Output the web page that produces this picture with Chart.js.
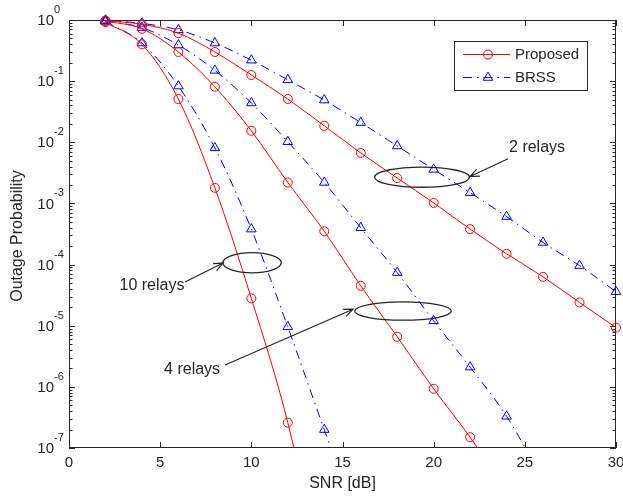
<!DOCTYPE html>
<html>
<head>
<meta charset="utf-8">
<script src="https://cdn.jsdelivr.net/npm/chart.js@4.4.1/dist/chart.umd.min.js"></script>
<style>
html,body{margin:0;padding:0;background:#fff;}
canvas{display:block;}
</style>
</head>
<body>
<canvas id="c" width="623" height="496"></canvas>
<script>
// ---- data ----
const snr = [2, 4, 6, 8, 10, 12, 14, 16, 18, 20, 22, 24, 26, 28, 30];
const proposed2 = [0.98, 0.85, 0.61, 0.30, 0.126, 0.051, 0.0186, 0.0067, 0.0026, 0.00102, 3.8e-4, 1.5e-4, 6.3e-5, 2.4e-5, 9.3e-6];
const brss2     = [0.99, 0.88, 0.69, 0.42, 0.22, 0.105, 0.049, 0.021, 0.0087, 0.0036, 0.0015, 6.1e-4, 2.3e-4, 9.6e-5, 3.6e-5];
const proposed4 = [0.96, 0.72, 0.30, 0.081, 0.0154, 0.0022, 3.5e-4, 4.5e-5, 6.6e-6, 9.3e-7, 1.5e-7, 2e-8];
const brss4     = [0.97, 0.75, 0.39, 0.15, 0.044, 0.0102, 0.0022, 4.0e-4, 7.4e-5, 1.2e-5, 2.1e-6, 3.3e-7, 3e-8];
const proposed10 = [0.92, 0.40, 0.051, 0.0018, 2.8e-5, 2.6e-7, 5e-10];
const brss10     = [0.95, 0.42, 0.083, 0.0081, 3.8e-4, 9.6e-6, 2.0e-7, 5e-9];
const xTicks = [0, 5, 10, 15, 20, 25, 30];
const yExponents = [0, -1, -2, -3, -4, -5, -6, -7];
const legendLabels = ['Proposed', 'BRSS'];
const xTitle = 'SNR [dB]';
const yTitle = 'Outage Probability';
// annotations: ellipse centre (dB, log10 P), radii (dB, decades), label, label position, arrow start and tip
const notes = [
  {cx: 19.36, cy: -2.57, rx: 2.6, ry: 0.165, text: '2 relays', tx: 25.67, ty: -2.08, ax: 24.08, ay: -2.27, bx: 21.99, by: -2.56},
  {cx: 10.04, cy: -3.97, rx: 1.6, ry: 0.165, text: '10 relays', tx: 4.55, ty: -4.35, ax: 6.36, ay: -4.285, bx: 8.45, by: -3.975},
  {cx: 18.32, cy: -4.76, rx: 2.65, ry: 0.15, text: '4 relays', tx: 6.75, ty: -5.71, ax: 8.56, ay: -5.643, bx: 15.58, by: -4.73}
];

const RED = '#ff0000', BLUE = '#0000ff', INK = '#262626';
const DASHDOT = [9, 5, 1.5, 5];
const FONT = '"Liberation Sans", Arial, sans-serif';
const CLIP = {left: 10, right: 10, top: 10, bottom: 0};

function pts(vals){ return vals.map((v, i) => ({x: snr[i], y: v})); }
function propDs(vals){
  return {data: pts(vals), borderColor: RED, backgroundColor: 'rgba(0,0,0,0)', borderWidth: 1, clip: CLIP,
    pointStyle: 'circle', pointRadius: 4.5, pointBorderWidth: 1, pointBorderColor: RED,
    pointBackgroundColor: 'rgba(0,0,0,0)', cubicInterpolationMode: 'monotone'};
}
function brssDs(vals){
  return {data: pts(vals), borderColor: BLUE, backgroundColor: 'rgba(0,0,0,0)', borderWidth: 1, clip: CLIP,
    borderDash: DASHDOT, pointStyle: 'triangle', pointRadius: 5.5, pointBorderWidth: 1, pointBorderColor: BLUE,
    pointBackgroundColor: 'rgba(0,0,0,0)', cubicInterpolationMode: 'monotone'};
}

const decor = {
  id: 'decor',
  beforeDatasetsDraw(chart){
    const {ctx, chartArea: a, scales: {x, y}} = chart;
    ctx.save();
    ctx.strokeStyle = INK; ctx.lineWidth = 1;
    ctx.strokeRect(a.left + 0.5, a.top + 0.5, a.right - a.left - 1, a.bottom - a.top - 1);
    ctx.beginPath();
    xTicks.forEach(v => {
      const px = Math.round(x.getPixelForValue(v)) + 0.5;
      ctx.moveTo(px, a.bottom); ctx.lineTo(px, a.bottom - 6);
      ctx.moveTo(px, a.top); ctx.lineTo(px, a.top + 6);
    });
    yExponents.forEach(e => {
      const py = Math.round(y.getPixelForValue(Math.pow(10, e))) + 0.5;
      ctx.moveTo(a.left, py); ctx.lineTo(a.left + 6, py);
      ctx.moveTo(a.right, py); ctx.lineTo(a.right - 6, py);
      if (e < 0) {
        for (let m = 2; m <= 9; m++) {
          const q = Math.round(y.getPixelForValue(m * Math.pow(10, e))) + 0.5;
          ctx.moveTo(a.left, q); ctx.lineTo(a.left + 3.5, q);
          ctx.moveTo(a.right, q); ctx.lineTo(a.right - 3.5, q);
        }
      }
    });
    ctx.stroke();
    // tick labels
    ctx.fillStyle = INK;
    ctx.font = '15px ' + FONT;
    ctx.textAlign = 'center'; ctx.textBaseline = 'middle';
    xTicks.forEach(v => ctx.fillText(String(v), x.getPixelForValue(v), a.bottom + 15));
    yExponents.forEach(e => {
      const py = y.getPixelForValue(Math.pow(10, e));
      ctx.font = '15px ' + FONT; ctx.textAlign = 'right';
      ctx.fillText('10', a.left - 15, py + 1);
      ctx.font = '11px ' + FONT; ctx.textAlign = 'left';
      ctx.fillText(String(e), a.left - 15, py - 10);
    });
    // axis titles
    ctx.font = '16px ' + FONT; ctx.textAlign = 'center';
    ctx.fillText(xTitle, (a.left + a.right) / 2, a.bottom + 36);
    ctx.save();
    ctx.translate(18, (a.top + a.bottom) / 2 + 2);
    ctx.rotate(-Math.PI / 2);
    ctx.fillText(yTitle, 0, 0);
    ctx.restore();
    ctx.restore();
  },
  afterDatasetsDraw(chart){
    const {ctx, chartArea: a, scales: {x, y}} = chart;
    const X = v => x.getPixelForValue(v), Y = e => y.getPixelForValue(Math.pow(10, e));
    ctx.save();
    // annotations
    notes.forEach(n => {
      const cx = X(n.cx), cy = Y(n.cy);
      const rx = X(n.cx + n.rx) - cx, ry = Y(n.cy - n.ry) - cy;
      ctx.strokeStyle = INK; ctx.lineWidth = 1.3; ctx.setLineDash([]);
      ctx.beginPath(); ctx.ellipse(cx, cy, rx, ry, 0, 0, Math.PI * 2); ctx.stroke();
      const x0 = X(n.ax), y0 = Y(n.ay), x1 = X(n.bx), y1 = Y(n.by);
      ctx.lineWidth = 1.2;
      ctx.beginPath(); ctx.moveTo(x0, y0); ctx.lineTo(x1, y1);
      const ang = Math.atan2(y1 - y0, x1 - x0), h = 10, s = 0.4;
      ctx.moveTo(x1 - h * Math.cos(ang - s), y1 - h * Math.sin(ang - s));
      ctx.lineTo(x1, y1);
      ctx.lineTo(x1 - h * Math.cos(ang + s), y1 - h * Math.sin(ang + s));
      ctx.stroke();
      ctx.fillStyle = INK; ctx.font = '16px ' + FONT;
      ctx.textAlign = 'center'; ctx.textBaseline = 'middle';
      ctx.fillText(n.text, X(n.tx), Y(n.ty));
    });
    // legend
    const L = 454, T = 41, W = 133, H = 49;
    ctx.fillStyle = '#fff'; ctx.fillRect(L, T, W, H);
    ctx.strokeStyle = INK; ctx.lineWidth = 1; ctx.setLineDash([]);
    ctx.strokeRect(L + 0.5, T + 0.5, W, H);
    const rows = [{c: RED, dash: [], y: T + 13, style: 'circle'}, {c: BLUE, dash: DASHDOT, y: T + 36, style: 'triangle'}];
    rows.forEach((r, i) => {
      ctx.strokeStyle = r.c; ctx.lineWidth = 1; ctx.setLineDash(r.dash);
      ctx.beginPath(); ctx.moveTo(L + 9, r.y + 0.5); ctx.lineTo(L + 56, r.y + 0.5); ctx.stroke();
      ctx.setLineDash([]);
      ctx.fillStyle = 'rgba(0,0,0,0)';
      Chart.helpers.drawPoint(ctx, {pointStyle: r.style, radius: r.style === 'circle' ? 4.5 : 5.5, rotation: 0, borderWidth: 1}, L + 34, r.y + 0.5);
      ctx.fillStyle = INK; ctx.font = '15px ' + FONT; ctx.textAlign = 'left'; ctx.textBaseline = 'middle';
      ctx.fillText(legendLabels[i], L + 61, r.y + 1);
    });
    ctx.restore();
  }
};

new Chart(document.getElementById('c'), {
  type: 'line',
  data: {datasets: [propDs(proposed2), brssDs(brss2), propDs(proposed4), brssDs(brss4), propDs(proposed10), brssDs(brss10)]},
  options: {
    responsive: false, animation: false, devicePixelRatio: 1,
    layout: {padding: {left: 69, right: 7, top: 20, bottom: 48}},
    plugins: {legend: {display: false}, tooltip: {enabled: false}},
    scales: {
      x: {type: 'linear', min: 0, max: 30, display: false},
      y: {type: 'logarithmic', min: 1e-7, max: 1, display: false}
    }
  },
  plugins: [decor, {id: 'bg', beforeDraw(c){ const g = c.ctx; g.save(); g.fillStyle = '#fff'; g.fillRect(0, 0, c.width, c.height); g.restore(); }}]
});
</script>
</body>
</html>
